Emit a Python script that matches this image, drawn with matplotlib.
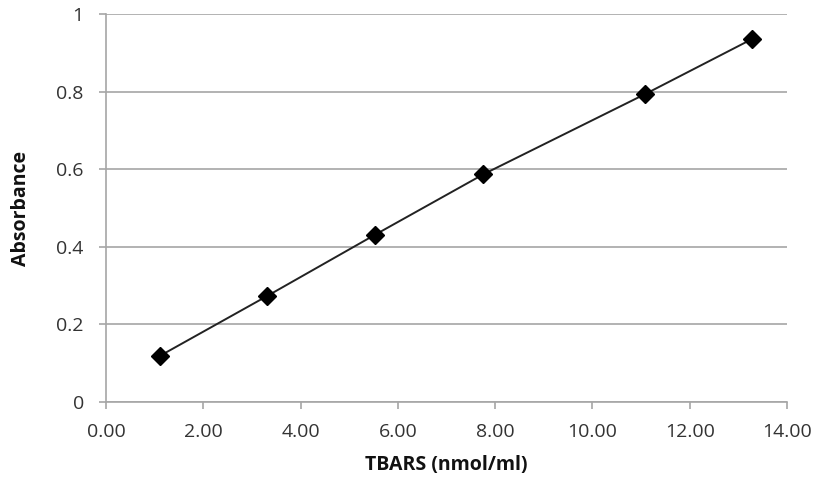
import matplotlib
matplotlib.use("Agg")
import matplotlib.pyplot as plt
from matplotlib.ticker import FuncFormatter

tbars = [1.11, 3.31, 5.53, 7.76, 11.09, 13.29]
absorbance = [0.119, 0.273, 0.431, 0.587, 0.794, 0.936]
x_ticks = [0, 2, 4, 6, 8, 10, 12, 14]
y_ticks = [0, 0.2, 0.4, 0.6, 0.8, 1.0]

plt.rcParams['font.family'] = ['Open Sans', 'DejaVu Sans']

fig = plt.figure(figsize=(8.16, 4.79), dpi=100)
ax = fig.add_axes([106/816, 77/479, (787-106)/816, (402-14)/479])

grid_c = '#a6a6a6'
ax.set_xlim(0, 14)
ax.set_ylim(0, 1)
ax.set_xticks(x_ticks)
ax.set_yticks(y_ticks)
ax.xaxis.set_major_formatter(FuncFormatter(lambda v, p: f"{v:.2f}"))
ax.yaxis.set_major_formatter(FuncFormatter(lambda v, p: f"{v:g}"))
ax.yaxis.grid(True, color=grid_c, linewidth=1.2)
ax.set_axisbelow(True)
for s in ['top', 'right']:
    ax.spines[s].set_visible(False)
for s in ['left', 'bottom']:
    ax.spines[s].set_color(grid_c)
    ax.spines[s].set_linewidth(1.2)
ax.tick_params(axis='both', colors=grid_c, length=5, width=1.2, direction='out',
               labelcolor='#333333', labelsize=14)
ax.tick_params(axis='x', pad=10)
ax.tick_params(axis='y', pad=11)

ax.plot(tbars, absorbance, color='#222222', linewidth=1.4, zorder=3)
ax.plot(tbars, absorbance, linestyle='none', marker='D', markersize=9,
        color='black', zorder=4, clip_on=False)

ax.set_xlabel('TBARS (nmol/ml)', fontsize=14, fontweight='bold', color='#111111', labelpad=10)
ax.set_ylabel('Absorbance', fontsize=14, fontweight='bold', color='#111111', labelpad=18)

fig.savefig('out.png', dpi=100)
